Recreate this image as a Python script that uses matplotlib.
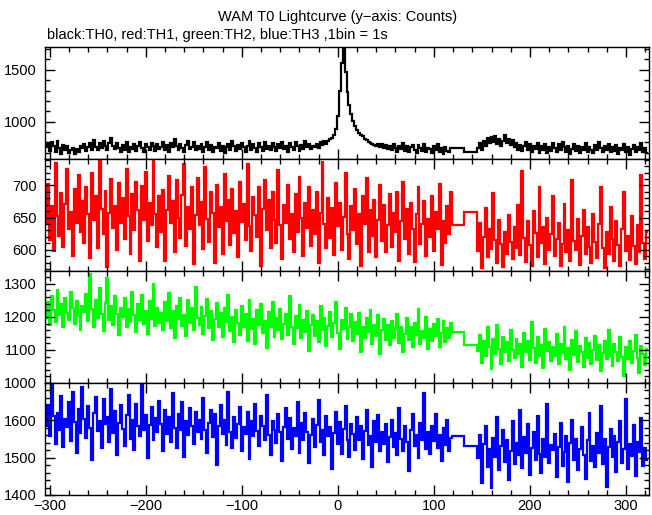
import numpy as np
import matplotlib
matplotlib.use("Agg")
import matplotlib.pyplot as plt
from matplotlib.ticker import MultipleLocator, FixedLocator

plt.rcParams['font.family'] = ['Liberation Sans', 'DejaVu Sans']

# 2 s bins before the gap (-305..119) and after it (145..323)
edges_pre = np.arange(-305, 120, 2)
edges_post = np.arange(145, 324, 2)
gap_edge = 131   # the gap is drawn as two long bins: 119-131 and 131-145

th0_pre = [
    755, 790, 718, 801, 762, 705, 812, 748, 690, 779, 731, 766, 702, 725, 748, 684, 735, 711, 770, 742,
    781, 716, 752, 798, 729, 824, 760, 722, 792, 745, 815, 768, 724, 796, 838, 763, 738, 790, 750, 712,
    775, 729, 802, 708, 758, 741, 786, 719, 763, 808, 743, 703, 780, 752, 727, 795, 761, 714, 784, 740,
    757, 806, 731, 772, 709, 794, 751, 829, 764, 725, 788, 747, 711, 778, 812, 733, 759, 801, 722, 769,
    740, 785, 706, 756, 803, 728, 771, 705, 760, 742, 792, 718, 765, 699, 752, 784, 730, 811, 761, 713,
    778, 735, 797, 754, 709, 763, 818, 727, 781, 748, 706, 792, 755, 720, 806, 738, 767, 730, 799, 756,
    719, 786, 747, 808, 733, 765, 707, 794, 752, 726, 801, 762, 715, 779, 740, 813, 757, 785, 738, 768,
    760, 789, 744, 801, 772, 810, 783, 815, 830, 842, 875, 930, 1050, 1300, 1570, 1710, 1480, 1290, 1160, 1075,
    1005, 960, 920, 890, 870, 858, 835, 822, 806, 798, 785, 779, 770, 788, 752, 781, 745, 776, 738, 769,
    722, 785, 748, 710, 770, 739, 795, 716, 761, 704, 753, 779, 731, 695, 772, 742, 718, 787, 707, 750,
    733, 698, 768, 724, 783, 711, 746, 689, 757, 720, 708, 744]
th0_gap = [745, 706]
th0_post = [
    748, 792, 726, 815, 768, 840, 790, 852, 805, 861, 783, 830, 770, 818, 872, 795, 836, 776, 821, 758,
    797, 731, 778, 715, 762, 806, 728, 781, 707, 767, 739, 798, 702, 765, 724, 787, 698, 752, 719, 792,
    745, 706, 781, 730, 801, 754, 712, 767, 690, 741, 785, 718, 763, 699, 752, 725, 794, 708, 758, 731,
    694, 772, 726, 805, 748, 709, 761, 722, 789, 704, 751, 716, 776, 689, 742, 728, 783, 711, 757, 681,
    738, 779, 703, 755, 727, 796, 712, 748, 700]

th1_pre = [
    640, 702, 615, 668, 598, 735, 652, 621, 688, 604, 671, 725, 633, 659, 590, 694, 642, 716, 627, 675,
    611, 698, 655, 587, 720, 646, 683, 602, 739, 664, 625, 691, 573, 657, 710, 634, 668, 599, 703, 641,
    680, 617, 726, 652, 594, 687, 630, 705, 661, 582, 699, 646, 721, 613, 672, 638, 740, 655, 604, 684,
    628, 693, 583, 662, 715, 641, 676, 597, 708, 650, 619, 685, 733, 606, 667, 633, 697, 578, 654, 712,
    639, 674, 601, 728, 648, 612, 689, 657, 580, 701, 635, 666, 593, 718, 645, 677, 608, 695, 626, 660,
    588, 706, 643, 671, 615, 734, 637, 598, 682, 654, 620, 697, 575, 663, 709, 631, 678, 603, 690, 647,
    611, 724, 638, 585, 669, 642, 700, 617, 655, 596, 686, 628, 713, 649, 590, 672, 634, 698, 606, 661,
    625, 689, 579, 657, 736, 640, 603, 681, 618, 665, 592, 704, 637, 673, 600, 651, 719, 624, 586, 668,
    631, 695, 609, 655, 574, 684, 640, 711, 597, 662, 621, 678, 588, 647, 700, 613, 669, 596, 638, 687,
    605, 657, 628, 690, 582, 644, 706, 617, 663, 594, 672, 632, 581, 655, 697, 609, 640, 676, 591, 648,
    620, 683, 598, 659, 632, 702, 577, 645, 611, 668, 625, 690]
th1_gap = [639, 659]
th1_post = [
    598, 642, 571, 620, 665, 589, 632, 601, 688, 615, 580, 647, 609, 573, 628, 594, 654, 612, 585, 636,
    603, 669, 592, 722, 618, 581, 644, 607, 575, 660, 626, 588, 697, 611, 635, 578, 650, 600, 624, 683,
    590, 617, 642, 574, 609, 671, 596, 630, 583, 708, 614, 599, 648, 577, 622, 661, 593, 636, 604, 579,
    655, 612, 587, 640, 698, 603, 571, 628, 594, 667, 616, 582, 645, 608, 575, 633, 690, 598, 621, 584,
    652, 606, 578, 639, 597, 716, 610, 585, 627]

th2_pre = [
    1198, 1245, 1176, 1262, 1220, 1185, 1281, 1207, 1239, 1169, 1256, 1213, 1192, 1275, 1228, 1180, 1249, 1203, 1160, 1234,
    1215, 1268, 1187, 1330, 1224, 1171, 1252, 1196, 1288, 1208, 1158, 1241, 1319, 1190, 1232, 1175, 1263, 1210, 1146, 1228,
    1201, 1257, 1169, 1224, 1185, 1276, 1206, 1153, 1239, 1192, 1265, 1180, 1218, 1148, 1247, 1195, 1299, 1172, 1226, 1183,
    1211, 1159, 1244, 1188, 1271, 1167, 1219, 1136, 1233, 1195, 1258, 1174, 1205, 1143, 1250, 1182, 1226, 1161, 1290, 1197,
    1176, 1229, 1148, 1203, 1255, 1165, 1217, 1131, 1193, 1242, 1170, 1212, 1139, 1228, 1184, 1267, 1158, 1199, 1125, 1221,
    1183, 1146, 1234, 1170, 1208, 1128, 1251, 1162, 1195, 1117, 1220, 1176, 1238, 1152, 1189, 1107, 1214, 1168, 1246, 1140,
    1197, 1159, 1225, 1132, 1180, 1210, 1145, 1263, 1171, 1118, 1203, 1166, 1237, 1137, 1190, 1154, 1219, 1098, 1176, 1205,
    1143, 1188, 1125, 1232, 1161, 1196, 1112, 1174, 1216, 1139, 1181, 1245, 1150, 1103, 1192, 1164, 1227, 1132, 1170, 1209,
    1128, 1186, 1147, 1213, 1095, 1168, 1135, 1198, 1154, 1221, 1119, 1177, 1142, 1206, 1087, 1160, 1193, 1131, 1175, 1114,
    1189, 1137, 1162, 1210, 1121, 1171, 1093, 1149, 1196, 1130, 1168, 1108, 1182, 1145, 1224, 1118, 1157, 1135, 1199, 1102,
    1163, 1128, 1178, 1141, 1195, 1110, 1152, 1189, 1124, 1166, 1137, 1181]
th2_gap = [1153, 1116]
th2_post = [
    1098, 1145, 1062, 1127, 1083, 1168, 1110, 1041, 1132, 1089, 1176, 1104, 1057, 1140, 1095, 1123, 1068, 1159, 1101, 1076,
    1134, 1087, 1119, 1049, 1152, 1093, 1128, 1071, 1185, 1106, 1060, 1138, 1082, 1114, 1045, 1163, 1097, 1125, 1066, 1109,
    1081, 1147, 1058, 1118, 1092, 1171, 1073, 1105, 1039, 1130, 1086, 1156, 1064, 1112, 1094, 1048, 1137, 1077, 1120, 1059,
    1101, 1142, 1069, 1115, 1035, 1091, 1128, 1074, 1160, 1083, 1052, 1117, 1095, 1066, 1139, 1080, 1021, 1108, 1073, 1126,
    1062, 1098, 1145, 1077, 1031, 1112, 1088, 1055, 1104]

th3_pre = [
    1585, 1642, 1558, 1697, 1611, 1536, 1620, 1574, 1665, 1529, 1603, 1582, 1648, 1545, 1677, 1596, 1512, 1631, 1567, 1690,
    1604, 1553, 1638, 1580, 1495, 1619, 1662, 1571, 1598, 1527, 1656, 1589, 1610, 1543, 1684, 1566, 1625, 1508, 1593, 1640,
    1577, 1532, 1615, 1668, 1551, 1602, 1521, 1643, 1586, 1559, 1696, 1574, 1613, 1499, 1588, 1635, 1547, 1606, 1569, 1652,
    1591, 1518, 1627, 1564, 1610, 1542, 1673, 1580, 1526, 1618, 1575, 1649, 1503, 1597, 1561, 1633, 1584, 1537, 1621, 1568,
    1602, 1549, 1660, 1573, 1512, 1594, 1628, 1556, 1617, 1481, 1585, 1642, 1563, 1600, 1533, 1676, 1570, 1525, 1609, 1554,
    1590, 1636, 1519, 1581, 1564, 1623, 1497, 1598, 1557, 1645, 1572, 1530, 1611, 1586, 1546, 1667, 1562, 1508, 1599, 1575,
    1540, 1617, 1568, 1492, 1583, 1634, 1551, 1605, 1523, 1579, 1559, 1648, 1513, 1592, 1546, 1620, 1570, 1485, 1561, 1603,
    1528, 1587, 1655, 1542, 1574, 1506, 1612, 1559, 1583, 1469, 1566, 1623, 1537, 1595, 1511, 1576, 1638, 1548, 1502, 1589,
    1563, 1521, 1609, 1547, 1584, 1496, 1571, 1628, 1533, 1558, 1475, 1597, 1543, 1614, 1519, 1570, 1536, 1590, 1488, 1555,
    1601, 1529, 1566, 1507, 1632, 1550, 1518, 1585, 1541, 1463, 1574, 1616, 1532, 1560, 1499, 1593, 1547, 1672, 1524, 1568,
    1509, 1586, 1544, 1617, 1526, 1561, 1490, 1579, 1535, 1602, 1517, 1553]
th3_gap = [1557, 1532]
th3_post = [
    1498, 1562, 1431, 1537, 1585, 1476, 1524, 1418, 1553, 1502, 1609, 1467, 1531, 1573, 1489, 1546, 1440, 1518, 1597, 1482,
    1540, 1506, 1628, 1471, 1555, 1513, 1590, 1453, 1527, 1568, 1494, 1612, 1510, 1459, 1549, 1503, 1645, 1486, 1535, 1521,
    1563, 1448, 1529, 1592, 1477, 1516, 1557, 1434, 1538, 1601, 1495, 1550, 1468, 1524, 1581, 1507, 1442, 1546, 1619, 1490,
    1532, 1475, 1566, 1512, 1638, 1483, 1549, 1421, 1528, 1577, 1501, 1559, 1461, 1543, 1599, 1487, 1522, 1656, 1470, 1536,
    1505, 1588, 1452, 1541, 1515, 1607, 1479, 1526, 1493]

panels = [
    (th0_pre, th0_gap, th0_post, 'black', (640, 1720), [1000, 1500], 100),
    (th1_pre, th1_gap, th1_post, 'red', (567, 741), [600, 650, 700], 10),
    (th2_pre, th2_gap, th2_post, '#00ff00', (1000, 1339), [1000, 1100, 1200, 1300], 20),
    (th3_pre, th3_gap, th3_post, 'blue', (1400, 1700), [1400, 1500, 1600], 20),
]

W, H = 652, 515
fig = plt.figure(figsize=(W / 100, H / 100), dpi=100)

top_px, panel_px = 47, 112
left_px, right_px = 45, 649
edges = np.concatenate([edges_pre, [gap_edge], edges_post])

for i, (pre, gap, post, color, ylim, yticks, yminor) in enumerate(panels):
    y0 = 1 - (top_px + panel_px * (i + 1)) / H
    ax = fig.add_axes([left_px / W, y0, (right_px - left_px) / W, panel_px / H])
    values = np.concatenate([pre, gap, post])
    ax.stairs(values, edges, baseline=None, color=color, lw=1.6)
    ax.set_xlim(-305, 324)
    ax.set_ylim(*ylim)
    ax.xaxis.set_major_locator(MultipleLocator(100))
    ax.xaxis.set_minor_locator(MultipleLocator(20))
    ax.yaxis.set_major_locator(FixedLocator(yticks))
    ax.yaxis.set_minor_locator(MultipleLocator(yminor))
    ax.tick_params(which='both', direction='in', top=True, right=True, width=1)
    ax.tick_params(which='major', length=7, labelsize=10.5)
    ax.tick_params(which='minor', length=3.5)
    ax.tick_params(axis='y', pad=6)
    ax.tick_params(axis='x', pad=3)
    for s in ax.spines.values():
        s.set_linewidth(1)
        s.set_zorder(3)
    if i < 3:
        ax.set_xticklabels([])

fig.text(338 / W, 1 - 17 / H, "WAM T0 Lightcurve (y\u2212axis: Counts)", ha='center', va='center', fontsize=10.5)
fig.text(47 / W, 1 - 35 / H, "black:TH0, red:TH1, green:TH2, blue:TH3 ,1bin = 1s", ha='left', va='center', fontsize=10.5)

plt.savefig("out.png", dpi=100)
plt.close()
